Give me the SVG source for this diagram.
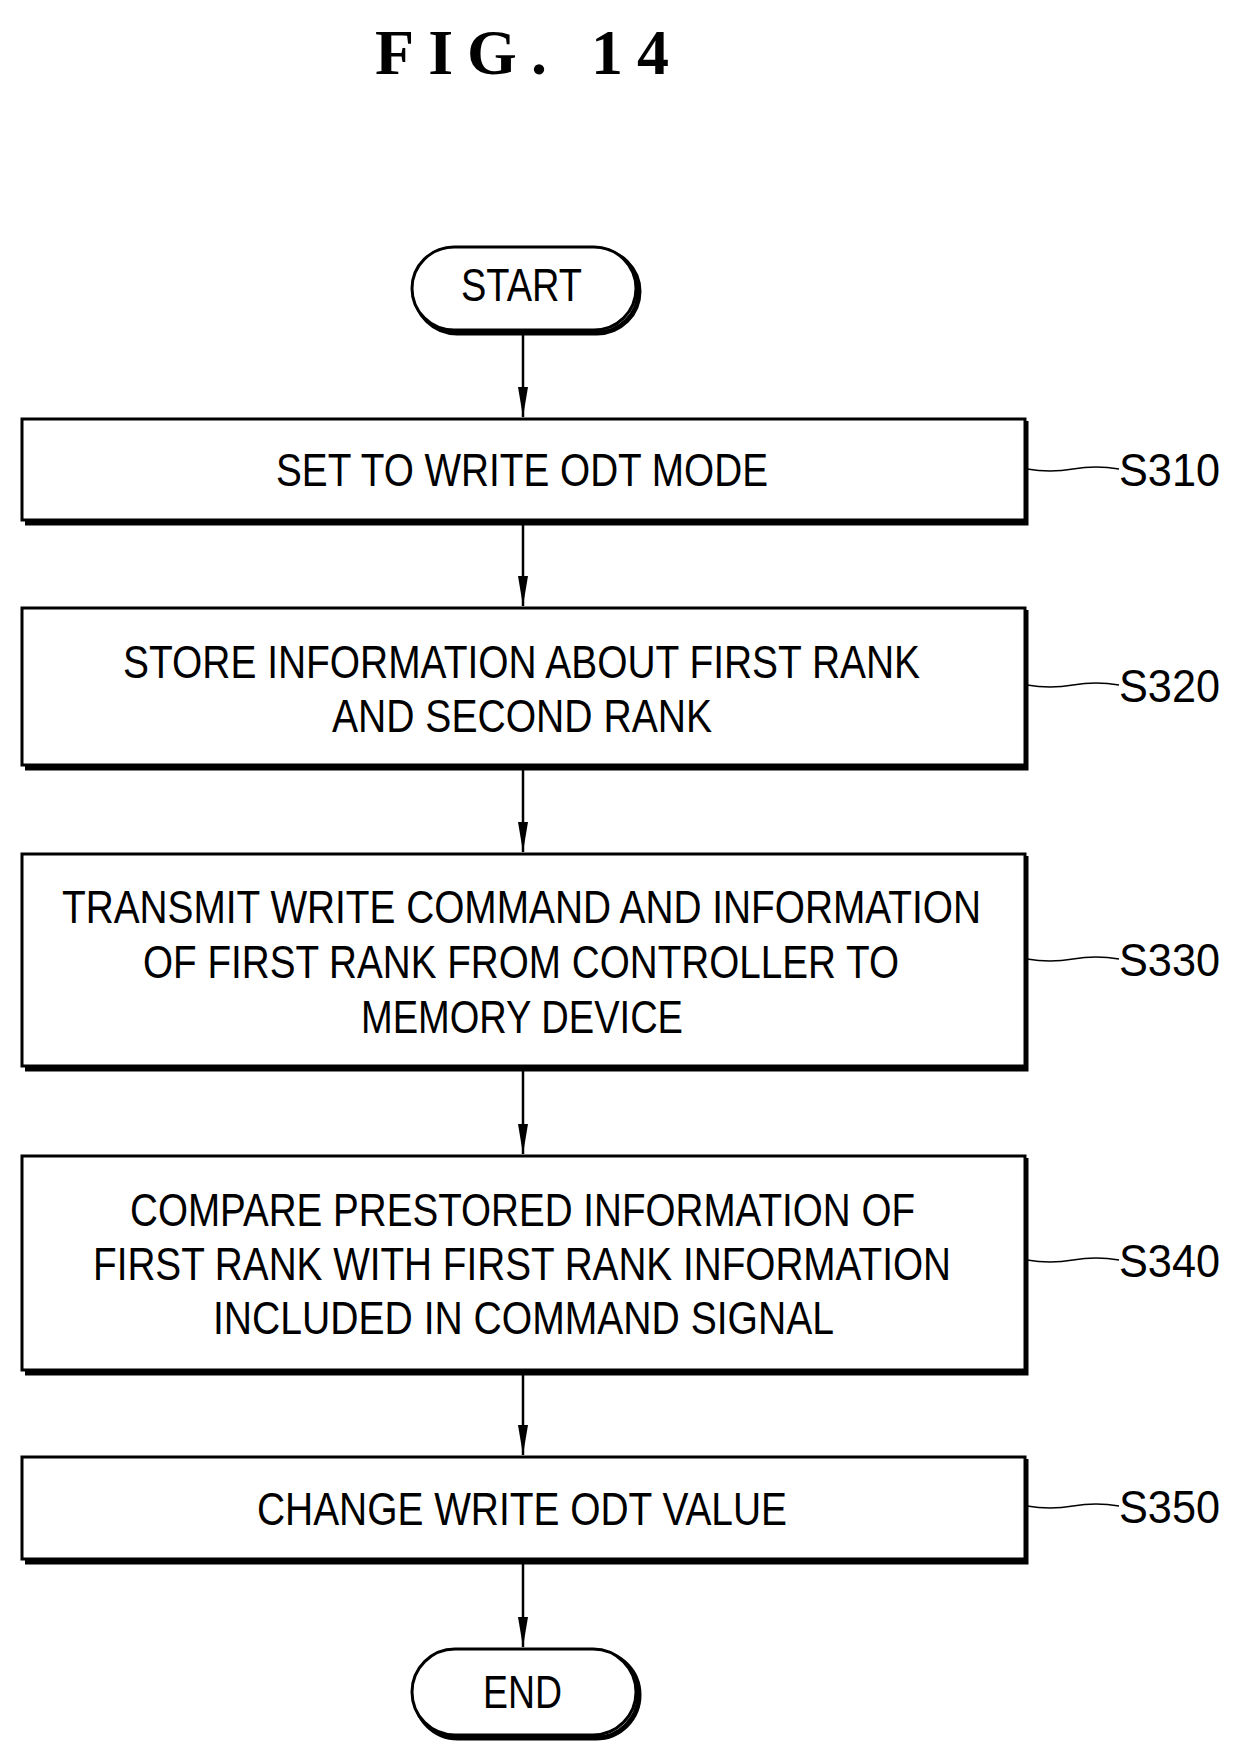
<svg xmlns="http://www.w3.org/2000/svg" width="1239" height="1755" viewBox="0 0 1239 1755">
<style>
.b{fill:#fff;stroke:#000;stroke-width:3}
.s{fill:none;stroke:#000;stroke-width:5}
.t{font-family:"Liberation Sans",Arial,sans-serif;font-size:46px;fill:#000;text-anchor:start}
.c{stroke:#000;stroke-width:2.5;fill:none}
.q{stroke:#000;stroke-width:1.5;fill:none}
</style>
<defs><marker id="h" viewBox="0 0 30 10" refX="30" refY="5" markerWidth="30" markerHeight="10" markerUnits="userSpaceOnUse" orient="auto"><path d="M0,0 L30,5 L0,10 Z"/></marker></defs>
<rect width="1239" height="1755" fill="#fff"/>
<text x="375" y="74" font-family="Liberation Serif,serif" font-size="64" font-weight="bold" textLength="294" lengthAdjust="spacing">FIG.  14</text>
<g transform="translate(0,-3)">
<g id="connectors">
<line class="c" x1="523" y1="333" x2="523" y2="420" marker-end="url(#h)"/>
<line class="c" x1="523" y1="525" x2="523" y2="609" marker-end="url(#h)"/>
<line class="c" x1="523" y1="770" x2="523" y2="855" marker-end="url(#h)"/>
<line class="c" x1="523" y1="1071" x2="523" y2="1157" marker-end="url(#h)"/>
<line class="c" x1="523" y1="1375" x2="523" y2="1458" marker-end="url(#h)"/>
<line class="c" x1="523" y1="1564" x2="523" y2="1650" marker-end="url(#h)"/>
</g>
<g id="start"><rect x="415" y="253" width="224" height="83" rx="42" class="s" stroke-width="3"/><rect x="412" y="250" width="224" height="83" rx="42" class="b"/><text class="t" x="461" y="304" textLength="121" lengthAdjust="spacingAndGlyphs">START</text></g>
<g id="s310"><path class="s" d="M1026,424 V526 H25"/><rect class="b" x="22" y="422" width="1003" height="101"/><text class="t" x="276" y="489" textLength="492" lengthAdjust="spacingAndGlyphs">SET TO WRITE ODT MODE</text>
<path class="q" d="M1027,472 q23,4 46,0 t46,0"/><text class="t" x="1119" y="489" textLength="101" lengthAdjust="spacingAndGlyphs">S310</text></g>
<g id="s320"><path class="s" d="M1026,613 V771 H25"/><rect class="b" x="22" y="611" width="1003" height="157"/><text class="t" x="123" y="681" textLength="797" lengthAdjust="spacingAndGlyphs">STORE INFORMATION ABOUT FIRST RANK</text><text class="t" x="332" y="735" textLength="380" lengthAdjust="spacingAndGlyphs">AND SECOND RANK</text>
<path class="q" d="M1027,688 q23,4 46,0 t46,0"/><text class="t" x="1119" y="705" textLength="101" lengthAdjust="spacingAndGlyphs">S320</text></g>
<g id="s330"><path class="s" d="M1026,859 V1072 H25"/><rect class="b" x="22" y="857" width="1003" height="212"/><text class="t" x="62" y="926" textLength="919" lengthAdjust="spacingAndGlyphs">TRANSMIT WRITE COMMAND AND INFORMATION</text><text class="t" x="143" y="981" textLength="756" lengthAdjust="spacingAndGlyphs">OF FIRST RANK FROM CONTROLLER TO</text><text class="t" x="361" y="1036" textLength="322" lengthAdjust="spacingAndGlyphs">MEMORY DEVICE</text>
<path class="q" d="M1027,962 q23,4 46,0 t46,0"/><text class="t" x="1119" y="979" textLength="101" lengthAdjust="spacingAndGlyphs">S330</text></g>
<g id="s340"><path class="s" d="M1026,1161 V1376 H25"/><rect class="b" x="22" y="1159" width="1003" height="214"/><text class="t" x="130" y="1229" textLength="785" lengthAdjust="spacingAndGlyphs">COMPARE PRESTORED INFORMATION OF</text><text class="t" x="93" y="1283" textLength="858" lengthAdjust="spacingAndGlyphs">FIRST RANK WITH FIRST RANK INFORMATION</text><text class="t" x="213" y="1337" textLength="621" lengthAdjust="spacingAndGlyphs">INCLUDED IN COMMAND SIGNAL</text>
<path class="q" d="M1027,1263 q23,4 46,0 t46,0"/><text class="t" x="1119" y="1280" textLength="101" lengthAdjust="spacingAndGlyphs">S340</text></g>
<g id="s350"><path class="s" d="M1026,1462 V1565 H25"/><rect class="b" x="22" y="1460" width="1003" height="102"/><text class="t" x="257" y="1528" textLength="530" lengthAdjust="spacingAndGlyphs">CHANGE WRITE ODT VALUE</text>
<path class="q" d="M1027,1509 q23,4 46,0 t46,0"/><text class="t" x="1119" y="1526" textLength="101" lengthAdjust="spacingAndGlyphs">S350</text></g>
<g id="end"><rect x="415" y="1655" width="224" height="86" rx="43" class="s" stroke-width="3"/><rect x="412" y="1652" width="224" height="86" rx="43" class="b"/><text class="t" x="483" y="1711" textLength="79" lengthAdjust="spacingAndGlyphs">END</text></g>
</g>
</svg>
